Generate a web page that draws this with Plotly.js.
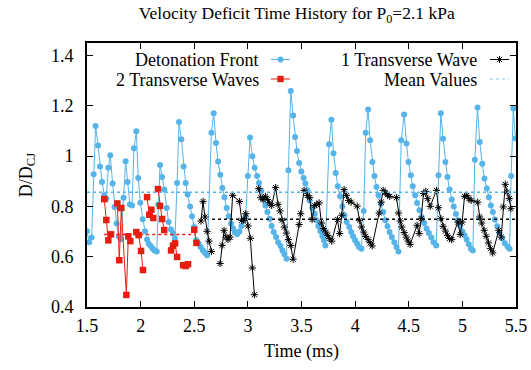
<!DOCTYPE html>
<html>
<head>
<meta charset="utf-8">
<script src="https://cdn.plot.ly/plotly-3.0.1.min.js"></script>
<style>html,body{margin:0;padding:0;background:#fff;}#chart{width:531px;height:370px;}</style>
</head>
<body>
<div id="chart"></div>
<script>
// ---- Data ----
const seriesNames = ['Detonation Front', '2 Transverse Waves', '1 Transverse Wave', 'Mean Values'];

const frontTime = [1.500,1.520,1.543,1.562,1.580,1.603,1.621,1.640,1.661,1.680,1.699,1.717,1.739,1.757,1.776,1.797,1.817,1.841,1.860,1.879,1.900,1.920,1.938,1.960,1.978,1.997,2.019,2.041,2.060,2.075,2.094,2.112,2.131,2.150,2.165,2.181,2.200,2.221,2.243,2.261,2.283,2.302,2.320,2.340,2.358,2.380,2.401,2.420,2.438,2.461,2.479,2.500,2.520,2.541,2.560,2.581,2.600,2.620,2.660,2.681,2.703,2.722,2.743,2.762,2.781,2.802,2.821,2.843,2.862,2.880,2.900,2.921,2.940,2.960,2.980,3.000,3.020,3.042,3.063,3.086,3.104,3.125,3.145,3.163,3.182,3.203,3.222,3.241,3.263,3.282,3.304,3.322,3.341,3.360,3.378,3.400,3.422,3.440,3.458,3.478,3.498,3.520,3.536,3.555,3.576,3.601,3.623,3.641,3.657,3.676,3.694,3.710,3.723,3.757,3.779,3.798,3.819,3.838,3.860,3.880,3.900,3.922,3.945,3.963,3.981,4.000,4.019,4.037,4.059,4.080,4.099,4.121,4.140,4.161,4.180,4.199,4.218,4.240,4.262,4.281,4.302,4.321,4.342,4.365,4.386,4.404,4.430,4.457,4.479,4.497,4.519,4.537,4.560,4.578,4.600,4.621,4.644,4.666,4.687,4.710,4.731,4.756,4.777,4.799,4.820,4.842,4.861,4.880,4.901,4.920,4.940,4.960,4.980,5.000,5.020,5.040,5.060,5.080,5.098,5.116,5.141,5.162,5.185,5.206,5.228,5.247,5.266,5.284,5.303,5.325,5.347,5.372,5.396,5.421,5.440,5.455,5.475,5.495];
const frontDeficit = [0.701,0.658,0.676,0.928,1.120,1.042,0.959,0.897,0.844,0.831,0.954,1.004,0.891,0.798,0.732,0.680,0.669,0.835,0.980,0.897,0.808,0.804,1.031,1.099,0.913,0.815,0.749,0.701,0.668,0.652,0.643,0.632,0.625,0.621,0.808,0.965,0.917,0.867,0.794,0.738,0.708,0.692,0.672,0.893,1.136,1.067,0.959,0.893,0.847,0.800,0.761,0.718,0.665,0.652,0.639,0.625,0.615,0.606,1.093,1.171,1.052,0.979,0.926,0.873,0.837,0.794,0.761,0.732,0.712,0.698,0.689,0.700,0.722,0.745,0.760,0.921,1.074,1.000,0.954,0.921,0.893,0.862,0.831,0.804,0.778,0.751,0.722,0.698,0.678,0.658,0.643,0.625,0.610,0.592,0.944,1.259,1.162,1.076,1.020,0.973,0.939,0.913,0.891,0.864,0.824,0.794,0.771,0.745,0.722,0.702,0.682,0.665,0.645,1.047,1.145,1.012,0.933,0.880,0.840,0.800,0.765,0.738,0.718,0.698,0.681,0.665,0.652,0.639,0.632,0.782,1.093,1.186,1.063,0.977,0.921,0.877,0.844,0.811,0.778,0.745,0.721,0.698,0.678,0.658,0.639,0.621,1.063,1.166,1.050,0.977,0.924,0.880,0.844,0.814,0.785,0.758,0.734,0.712,0.694,0.676,0.658,0.645,0.924,1.171,1.069,0.977,0.917,0.867,0.828,0.800,0.770,0.745,0.722,0.700,0.685,0.668,0.650,0.632,0.625,0.986,1.193,1.056,0.970,0.911,0.871,0.837,0.804,0.778,0.748,0.721,0.694,0.672,0.654,0.641,0.632,0.921,1.189,1.070];

const twoWaveTime = [1.661,1.680,1.699,1.724,null,1.783,1.801,1.820,1.867,1.885,1.904,null,1.960,1.981,2.004,2.022,null,2.060,2.081,2.100,2.118,null,2.162,2.181,2.200,2.220,null,2.284,2.302,2.321,2.340,null,2.396,2.420,2.442,null,2.500,2.520];
const twoWaveDeficit = [0.829,0.746,0.665,0.689,null,0.812,0.586,0.794,0.448,0.681,0.662,null,0.698,0.686,0.623,0.547,null,0.837,0.767,0.787,0.754,null,0.869,0.802,0.750,0.706,null,0.625,0.644,0.653,0.599,null,0.566,0.563,0.570,null,0.707,0.655];

const oneWaveTime = [2.563,2.582,2.600,2.619,2.638,2.660,null,2.741,2.759,2.778,2.797,2.815,2.834,2.858,2.921,2.943,2.961,2.980,3.002,3.023,3.042,3.061,null,3.101,3.120,3.142,3.163,3.182,3.200,3.222,3.259,3.282,3.300,3.319,3.340,3.359,3.378,3.400,3.422,3.478,3.493,3.524,3.555,3.576,3.599,3.623,3.642,3.664,3.686,3.704,3.726,3.745,3.763,3.782,3.835,3.856,3.875,3.897,3.919,3.940,3.963,4.019,4.040,4.059,4.080,4.099,4.121,4.140,4.159,4.224,4.243,4.262,4.280,4.301,4.323,4.385,4.404,4.420,4.435,4.457,4.476,4.494,4.513,4.578,4.597,4.616,4.637,4.659,4.677,4.700,4.758,4.777,4.799,4.821,4.842,4.861,4.880,4.901,4.957,4.980,4.998,5.020,5.041,5.060,5.082,5.143,5.162,5.180,5.203,5.222,5.243,5.262,5.283,5.339,5.362,5.381,5.400,5.418,5.437,5.452];
const oneWaveDeficit = [0.742,0.820,0.758,0.701,0.662,0.621,null,0.573,0.645,0.705,0.678,0.668,0.678,0.844,0.820,0.745,0.745,0.771,0.722,0.673,0.555,0.449,null,0.871,0.835,0.827,0.840,0.828,0.814,0.804,0.875,0.808,0.782,0.745,0.718,0.694,0.668,0.645,0.590,0.728,0.771,0.864,0.844,0.835,0.748,0.804,0.807,0.814,0.734,0.712,0.698,0.685,0.672,0.662,0.748,0.692,0.765,0.867,0.844,0.824,0.817,0.801,0.745,0.718,0.698,0.681,0.668,0.655,0.643,0.774,0.817,0.864,0.855,0.847,0.840,0.835,0.774,0.742,0.718,0.696,0.678,0.662,0.649,0.725,0.692,0.751,0.851,0.860,0.831,0.800,0.864,0.795,0.751,0.721,0.702,0.685,0.672,0.668,0.738,0.689,0.738,0.840,0.844,0.831,0.824,0.817,0.758,0.734,0.705,0.681,0.655,0.632,0.615,0.705,0.678,0.798,0.888,0.857,0.831,0.791];

// mean values and the time spans they cover
const meanFrontSpan = [1.5, 5.5];
const meanFrontValue = [0.856, 0.856];
const meanTwoSpan = [1.661, 2.51];
const meanTwoValue = [0.688, 0.688];
const meanOneSpan = [2.666, 5.5];
const meanOneValue = [0.749, 0.749];

const xTicks = [1.5, 2, 2.5, 3, 3.5, 4, 4.5, 5, 5.5];
const xTickLabels = ['1.5', '2', '2.5', '3', '3.5', '4', '4.5', '5', '5.5'];
const yTicks = [0.4, 0.6, 0.8, 1.0, 1.2, 1.4];
const yTickLabels = ['0.4', '0.6', '0.8', '1', '1.2', '1.4'];

// ---- Styling ----
const BLUE = '#56b4e9', RED = '#e51e10', BLACK = '#000000';
const FONT = 'Liberation Serif, Times New Roman, serif';

// plot-area geometry, used to place the gnuplot-style key (label text left of its sample)
const PL = 87, PW = 429, PT = 43, PH = 264;
const xp = px => (px - PL) / PW;
const yp = py => (PT + PH - py) / PH;

const traces = [
  {x: frontTime, y: frontDeficit, name: seriesNames[0], type: 'scatter', mode: 'lines+markers',
   line: {color: BLUE, width: 1}, marker: {color: BLUE, size: 6, symbol: 'circle'}},
  {x: twoWaveTime, y: twoWaveDeficit, name: seriesNames[1], type: 'scatter', mode: 'lines+markers', connectgaps: false,
   line: {color: RED, width: 1}, marker: {color: RED, size: 6.5, symbol: 'square'}},
  {x: oneWaveTime, y: oneWaveDeficit, name: seriesNames[2], type: 'scatter', mode: 'lines+markers', connectgaps: false,
   line: {color: BLACK, width: 1}, marker: {color: BLACK, size: 6, symbol: 'asterisk-open', line: {color: BLACK, width: 1}}},
  {x: meanFrontSpan, y: meanFrontValue, name: seriesNames[3] + ' (front)', type: 'scatter', mode: 'lines',
   line: {color: BLUE, width: 1.5, dash: 'dot'}},
  {x: meanTwoSpan, y: meanTwoValue, name: seriesNames[3] + ' (2 waves)', type: 'scatter', mode: 'lines',
   line: {color: RED, width: 1.5, dash: 'dot'}},
  {x: meanOneSpan, y: meanOneValue, name: seriesNames[3] + ' (1 wave)', type: 'scatter', mode: 'lines',
   line: {color: BLACK, width: 1.5, dash: 'dot'}}
];

// key: text annotations + sample line/symbol shapes
function keyText(text, px, py) {
  return {text: text, xref: 'paper', yref: 'paper', x: xp(px), y: yp(py), xanchor: 'right', yanchor: 'middle',
          showarrow: false, borderpad: 0, font: {family: FONT, size: 18, color: 'black'}};
}
function keyLine(px0, px1, py, color, dash, width) {
  return {type: 'line', xref: 'paper', yref: 'paper', x0: xp(px0), x1: xp(px1), y0: yp(py), y1: yp(py),
          line: {color: color, width: width || 1, dash: dash || 'solid'}, layer: 'above'};
}
function keySymbol(type, px, py, color, r, path) {
  const s = {type: type, xref: 'paper', yref: 'paper', xsizemode: 'pixel', ysizemode: 'pixel',
             xanchor: xp(px), yanchor: yp(py), layer: 'above'};
  if (type === 'path') {
    s.path = path; s.line = {color: color, width: 1};
  } else {
    s.x0 = -r; s.x1 = r; s.y0 = -r; s.y1 = r; s.fillcolor = color; s.line = {color: color, width: 0};
  }
  return s;
}
const STAR = 'M-3.5,0H3.5M0,-3.5V3.5M-2.6,-2.6L2.6,2.6M-2.6,2.6L2.6,-2.6';

const axisCommon = {
  ticks: 'inside', ticklen: 6, tickwidth: 1, tickcolor: 'black',
  showline: true, linewidth: 2, linecolor: 'black', mirror: 'ticks',
  showgrid: false, zeroline: false, tickmode: 'array',
  tickfont: {family: FONT, size: 18, color: 'black'}
};

const layout = {
  width: 531, height: 370,
  margin: {l: PL, r: 531 - PL - PW, t: PT, b: 370 - PT - PH, pad: 0},
  paper_bgcolor: 'white', plot_bgcolor: 'white',
  font: {family: FONT, size: 18, color: 'black'},
  showlegend: false,
  title: {text: 'Velocity Deficit Time History for P<sub>0</sub>=2.1 kPa', xref: 'paper', x: 0.489, xanchor: 'center',
          yref: 'container', y: 0.964, yanchor: 'middle', font: {family: FONT, size: 17.5, color: 'black'}},
  xaxis: Object.assign({}, axisCommon, {range: [1.5, 5.5], tickvals: xTicks, ticktext: xTickLabels,
          ticklabelstandoff: 1, title: {text: 'Time (ms)', standoff: 10, font: {family: FONT, size: 18}}}),
  yaxis: Object.assign({}, axisCommon, {range: [0.4, 1.45], tickvals: yTicks, ticktext: yTickLabels,
          ticklabelstandoff: 8, title: {text: 'D/D<sub>CJ</sub>', standoff: 14, font: {family: FONT, size: 18}}}),
  annotations: [
    keyText(seriesNames[0], 260, 59.5),
    keyText(seriesNames[1], 260, 79.5),
    keyText(seriesNames[2], 478, 59.5),
    keyText(seriesNames[3], 478, 79.5)
  ],
  shapes: [
    keyLine(271, 290, 59.5, BLUE),
    keySymbol('circle', 280.5, 59.5, BLUE, 3),
    keyLine(271, 290, 79, RED),
    keySymbol('rect', 280.5, 79, RED, 3.2),
    keyLine(490, 509, 59.5, BLACK),
    keySymbol('path', 499.5, 59.5, BLACK, 0, STAR),
    keyLine(490, 509, 79, 'rgba(86,180,233,0.5)', 'dot', 1.5)
  ]
};

Plotly.newPlot('chart', traces, layout, {displayModeBar: false, staticPlot: true});
</script>
</body>
</html>
